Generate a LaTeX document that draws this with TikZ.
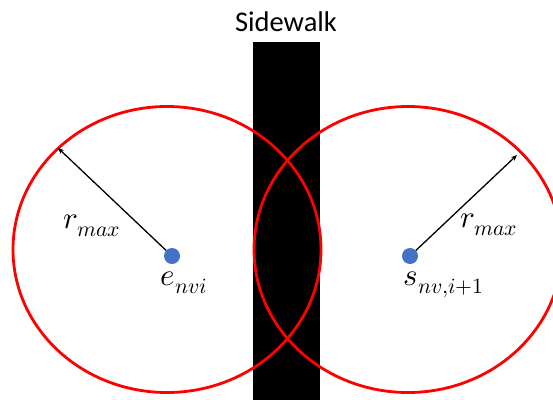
\documentclass[tikz,border=0pt]{standalone}
\usepackage{fontspec}
\usepackage{unicode-math}
\setmathfont{Latin Modern Math}
\newfontfamily\carlito{Carlito}
\usetikzlibrary{arrows.meta}
\definecolor{dotblue}{HTML}{4472C4}
\begin{document}
\begin{tikzpicture}[x=1pt,y=-1pt,
  ring/.style={draw=red, line width=2.8pt},
  bar/.style={fill=black, draw=none, inner sep=0pt},
  dot/.style={circle, fill=dotblue, minimum size=16pt, inner sep=0pt},
  radiusarrow/.style={-{Stealth[length=6pt,width=5pt]}, line width=1.3pt},
  lbl/.style={font=\fontsize{31}{34}\selectfont, inner sep=0pt},
  ttl/.style={font=\carlito\fontsize{28.5}{32}\selectfont, inner sep=0pt}]
\useasboundingbox (0,0) rectangle (553,399);
\clip (0,0) rectangle (553,399);
\fill[white] (0,0) rectangle (553,399);
% sidewalk bar
\node[bar, minimum width=67pt, minimum height=360pt, anchor=north west] (walk) at (253,42) {};
\node[ttl] (title) at (286,22) {Sidewalk};
% range ellipses
\draw[ring] (167,249.5) ellipse [x radius=154pt, y radius=143pt];
\draw[ring] (408,249.5) ellipse [x radius=154pt, y radius=143pt];
% points
\node[dot] (e) at (172,256) {};
\node[dot] (s) at (410,256) {};
\coordinate (ltip) at (58,148);
\coordinate (rtip) at (517,155);
\draw[radiusarrow] (e) -- (ltip);
\draw[radiusarrow] (s) -- (rtip);
% labels
\node[lbl] (rl) at (92,226) {$r_{max}$};
\node[lbl] (el) at (184,283) {$e_{nvi}$};
\node[lbl] (sl) at (444,285) {$s_{nv,i+1}$};
\node[lbl] (rr) at (489,225) {$r_{max}$};
\end{tikzpicture}
\end{document}
